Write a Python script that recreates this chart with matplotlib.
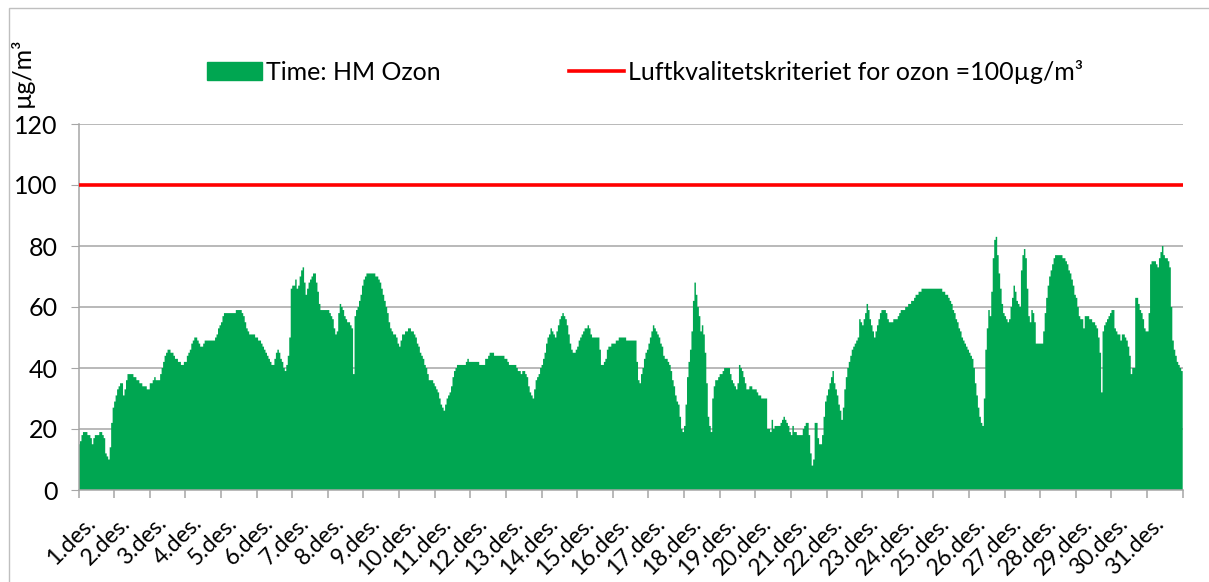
import numpy as np
import matplotlib
matplotlib.use("Agg")
import matplotlib.pyplot as plt
from matplotlib.patches import Rectangle
from matplotlib.lines import Line2D

plt.rcParams['font.family'] = ['Lato', 'DejaVu Sans']

# Hourly ozone (µg/m³), 24 values per day, December
d01 = [15, 16, 18, 19, 19, 19, 18, 18, 17, 15, 17, 18, 18, 18, 19, 19, 18, 17, 12, 11, 10, 14, 22, 27]
d02 = [29, 31, 33, 34, 35, 35, 31, 33, 36, 38, 38, 38, 38, 37, 37, 36, 36, 35, 35, 34, 34, 34, 33, 33]
d03 = [35, 35, 36, 37, 36, 36, 36, 38, 40, 42, 44, 45, 46, 46, 45, 45, 44, 43, 43, 42, 42, 41, 41, 42]
d04 = [42, 44, 45, 46, 48, 49, 50, 50, 49, 48, 47, 47, 48, 49, 49, 49, 49, 49, 49, 49, 50, 51, 53, 54]
d05 = [55, 57, 58, 58, 58, 58, 58, 58, 58, 58, 59, 59, 59, 59, 58, 57, 55, 53, 52, 51, 51, 51, 51, 50]
d06 = [50, 49, 49, 48, 47, 46, 45, 44, 43, 42, 41, 41, 43, 45, 46, 45, 43, 42, 40, 39, 41, 44, 50, 66]
d07 = [67, 67, 69, 66, 67, 70, 72, 73, 68, 64, 66, 68, 69, 70, 71, 71, 68, 65, 61, 59, 59, 59, 59, 59]
d08 = [59, 58, 57, 56, 53, 51, 52, 58, 61, 60, 59, 57, 56, 55, 55, 54, 53, 38, 57, 59, 60, 62, 64, 67]
d09 = [69, 70, 71, 71, 71, 71, 71, 71, 70, 70, 69, 68, 66, 64, 62, 60, 58, 55, 53, 52, 51, 51, 50, 48]
d10 = [47, 49, 51, 51, 52, 52, 53, 53, 52, 52, 51, 50, 48, 47, 45, 44, 43, 41, 40, 38, 36, 36, 36, 35]
d11 = [34, 33, 32, 30, 28, 27, 26, 28, 30, 31, 32, 34, 37, 39, 40, 41, 41, 41, 41, 41, 41, 42, 43, 42]
d12 = [42, 42, 42, 42, 42, 42, 41, 41, 41, 41, 43, 43, 44, 45, 45, 45, 44, 44, 44, 44, 44, 44, 44, 43]
d13 = [43, 42, 41, 41, 41, 41, 41, 40, 39, 39, 38, 39, 39, 38, 37, 34, 32, 31, 30, 33, 36, 37, 38, 40]
d14 = [41, 43, 45, 48, 50, 51, 53, 52, 51, 50, 52, 54, 56, 57, 58, 57, 56, 54, 51, 48, 46, 45, 45, 46]
d15 = [47, 49, 50, 51, 52, 53, 53, 54, 53, 51, 50, 50, 50, 50, 50, 46, 41, 41, 42, 43, 46, 47, 47, 48]
d16 = [48, 48, 49, 49, 50, 50, 50, 50, 50, 49, 49, 49, 49, 49, 49, 49, 42, 36, 35, 38, 40, 43, 45, 46]
d17 = [48, 50, 52, 54, 53, 52, 51, 50, 48, 47, 44, 43, 43, 42, 41, 39, 36, 34, 31, 29, 28, 24, 20, 19]
d18 = [21, 28, 37, 42, 46, 52, 62, 68, 64, 60, 57, 52, 54, 51, 45, 35, 24, 21, 19, 30, 34, 36, 36, 37]
d19 = [38, 38, 39, 40, 40, 40, 40, 38, 36, 35, 34, 33, 35, 41, 40, 39, 37, 35, 33, 33, 34, 34, 33, 33]
d20 = [33, 32, 31, 31, 30, 30, 30, 30, 20, 20, 19, 23, 20, 21, 21, 21, 21, 22, 23, 24, 23, 22, 21, 19]
d21 = [18, 21, 19, 19, 18, 18, 18, 18, 20, 21, 22, 22, 18, 12, 8, 10, 22, 22, 17, 15, 15, 18, 24, 29]
d22 = [31, 33, 35, 37, 39, 35, 33, 31, 28, 26, 23, 27, 33, 37, 40, 42, 44, 46, 47, 48, 49, 50, 56, 55]
d23 = [54, 56, 58, 61, 59, 56, 54, 52, 50, 52, 54, 56, 58, 59, 59, 59, 58, 56, 55, 55, 55, 56, 56, 56]
d24 = [57, 58, 59, 59, 59, 60, 60, 61, 61, 62, 62, 63, 64, 64, 65, 65, 66, 66, 66, 66, 66, 66, 66, 66]
d25 = [66, 66, 66, 66, 66, 66, 65, 65, 64, 64, 63, 62, 61, 59, 58, 56, 55, 53, 52, 50, 49, 48, 47, 46]
d26 = [45, 44, 43, 40, 35, 31, 27, 24, 22, 21, 30, 46, 53, 59, 57, 65, 76, 82, 83, 77, 71, 66, 61, 58]
d27 = [57, 56, 55, 56, 60, 63, 67, 65, 62, 61, 60, 72, 77, 79, 76, 66, 57, 55, 59, 58, 55, 48, 48, 48]
d28 = [48, 48, 52, 58, 63, 67, 70, 72, 74, 76, 77, 77, 77, 77, 77, 76, 76, 75, 74, 72, 71, 69, 67, 64]
d29 = [63, 60, 57, 56, 56, 53, 57, 57, 57, 56, 56, 55, 55, 54, 53, 50, 45, 32, 52, 54, 55, 56, 57, 58]
d30 = [59, 59, 53, 52, 51, 51, 49, 51, 51, 50, 49, 47, 44, 38, 40, 40, 63, 63, 61, 59, 58, 56, 53, 52]
d31 = [52, 58, 74, 75, 75, 75, 74, 73, 76, 78, 80, 77, 76, 76, 75, 73, 60, 49, 46, 44, 42, 41, 40, 39]

days = [d01, d02, d03, d04, d05, d06, d07, d08, d09, d10, d11, d12, d13, d14, d15, d16,
        d17, d18, d19, d20, d21, d22, d23, d24, d25, d26, d27, d28, d29, d30, d31]
day_labels = [f"{i}.des." for i in range(1, 32)]
limit_value = 100
series_name = "Time: HM Ozon"
limit_name = "Luftkvalitetskriteriet for ozon =100µg/m³"

ozone = np.concatenate([np.array(d, dtype=float) for d in days])
edges = np.arange(len(ozone) + 1)
n_days = len(days)

W, H = 1209, 582
fig = plt.figure(figsize=(W / 100, H / 100), dpi=100)
ax = fig.add_axes([78.5 / W, 1 - 490 / H, (1182.7 - 78.5) / W, (490 - 124) / H])

green = '#00A651'
grid_c = '#A6A6A6'

# hourly bars (contiguous, no gaps) drawn as a filled step outline
ax.stairs(ozone, edges, fill=True, color=green, linewidth=0, zorder=2)
ax.axhline(limit_value, color='#FF0000', linewidth=2.6, zorder=3)

ax.set_xlim(0, len(ozone))
ax.set_ylim(0, 120)
ax.set_yticks(np.arange(0, 121, 20))
ax.yaxis.grid(True, color=grid_c, linewidth=1.1, zorder=0)
ax.set_axisbelow(True)
for s in ['top', 'right']:
    ax.spines[s].set_visible(False)
for s in ['left', 'bottom']:
    ax.spines[s].set_color(grid_c)
    ax.spines[s].set_linewidth(1.1)
ax.tick_params(axis='y', length=6, color=grid_c, labelsize=18, pad=9, labelcolor='black')

# x: minor ticks at day boundaries, labels at day centres
ax.set_xticks(np.arange(0, len(ozone) + 1, 24), minor=True)
ax.set_xticks(np.arange(n_days) * 24 + 12)
ax.set_xticklabels(day_labels)
ax.tick_params(axis='x', which='minor', length=6, color=grid_c, width=1.1)
ax.tick_params(axis='x', which='major', length=0, labelsize=16.5, pad=25)
for lab in ax.get_xticklabels():
    lab.set_rotation(45)
    lab.set_rotation_mode('anchor')
    lab.set_ha('right')
    lab.set_va('baseline')

fig.text(22 / W, 1 - 72 / H, 'µg/m³', rotation=90, ha='center', va='center', fontsize=18)

handles = [Rectangle((0, 0), 1, 1, facecolor=green, edgecolor=green),
           Line2D([0], [0], color='#FF0000', linewidth=2.6)]
fig.legend(handles, [series_name, limit_name], loc='center left',
           bbox_to_anchor=(207 / W, 1 - 72 / H), ncol=2, frameon=False,
           fontsize=18, handlelength=2.2, handleheight=0.75, handletextpad=0.15,
           columnspacing=5.15, borderaxespad=0, borderpad=0)

# chart border
fig.add_artist(Rectangle((9 / W, -0.1), 1.5, 1.1 - 8 / H, transform=fig.transFigure,
                         fill=False, edgecolor='#BFBFBF', linewidth=1.0))

fig.savefig('out.png', dpi=100)
